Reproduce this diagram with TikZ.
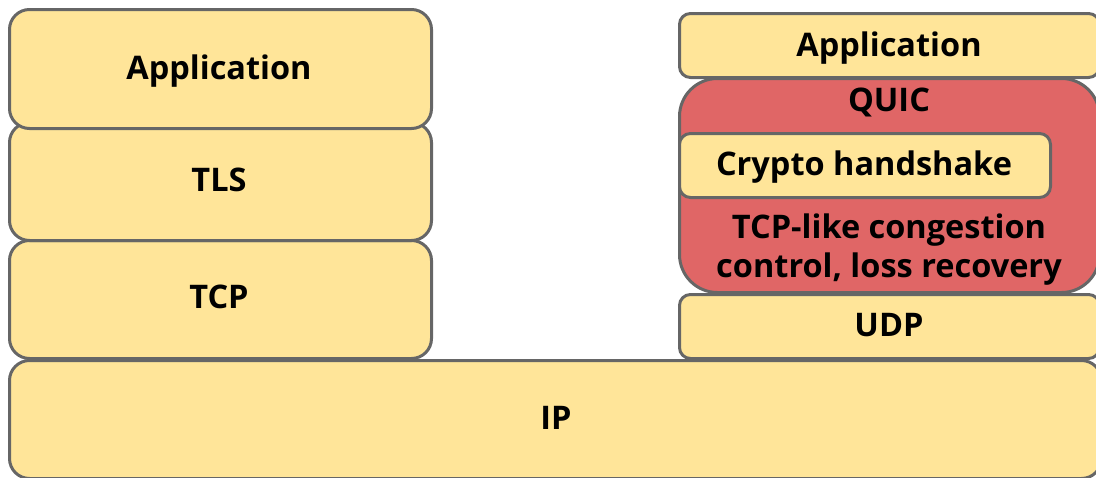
\documentclass[tikz,border=0pt]{standalone}
\usepackage{fontspec}
\setmainfont{Open Sans}
\definecolor{ylw}{HTML}{FFE599}
\definecolor{rd}{HTML}{E06666}
\definecolor{edge}{HTML}{666666}
\tikzset{
  layer/.style={draw=edge, line width=3pt, fill=ylw, anchor=north west, inner sep=0pt},
  redlayer/.style={layer, fill=rd},
  lbl/.style={inner sep=0pt, font=\fontsize{32.5}{39}\selectfont\bfseries, text=black, align=center, text height=23pt, text depth=0pt}
}
\begin{document}
\begin{tikzpicture}[x=1pt,y=-1pt]
\useasboundingbox (0,0) rectangle (1096,477);
\clip (0,0) rectangle (1096,477);
% left stack
\node[layer, minimum width=1092pt, minimum height=118pt, rounded corners=20pt] (ip) at (8,359) {};
\node[layer, minimum width=422pt, minimum height=118pt, rounded corners=20pt] (tcp) at (8,239) {};
\node[layer, minimum width=422pt, minimum height=118pt, rounded corners=20pt] (tls) at (8,121) {};
\node[layer, minimum width=422pt, minimum height=119pt, rounded corners=20pt] (app1) at (8,8) {};
% right stack
\node[layer, minimum width=420pt, minimum height=64pt, rounded corners=11pt] (udp) at (678,293) {};
\node[redlayer, minimum width=420pt, minimum height=214pt, rounded corners=38pt] (quic) at (678,77) {};
\node[layer, minimum width=420pt, minimum height=64pt, rounded corners=11pt] (app2) at (678,12) {};
\node[layer, minimum width=371pt, minimum height=64pt, rounded corners=11pt] (crypto) at (678,132) {};
% labels
\node[lbl] at (219,68) {Application};
\node[lbl] at (219,180) {TLS};
\node[lbl] at (219,297) {TCP};
\node[lbl] at (556,418) {IP};
\node[lbl] at (889,45) {Application};
\node[lbl] at (889,100) {QUIC};
\node[lbl] at (864,164) {Crypto handshake};
\node[lbl, text height=, text depth=] at (889,250) {TCP-like congestion\\control, loss recovery};
\node[lbl] at (889,325) {UDP};
\end{tikzpicture}
\end{document}
